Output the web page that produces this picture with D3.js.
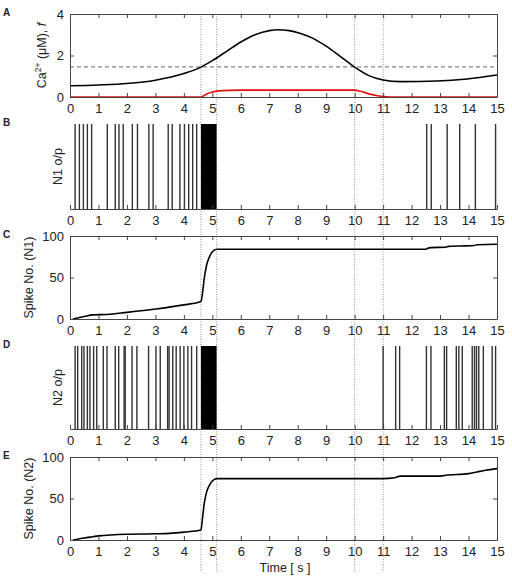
<!DOCTYPE html>
<html>
<head>
<meta charset="utf-8">
<script src="https://cdn.jsdelivr.net/npm/d3@7"></script>
<style>
  body { margin: 0; background: #fff; }
  text { font-family: "Liberation Sans", Arial, sans-serif; fill: #222; }
</style>
</head>
<body>
<svg id="chart" width="512" height="577"></svg>
<script>
// time ticks shared by every panel
const timeTicks = [0, 1, 2, 3, 4, 5, 6, 7, 8, 9, 10, 11, 12, 13, 14, 15];
const markerTimes = [4.6, 5.15, 10, 11];

// A: calcium and f
const caT   = [0, 1, 2, 3, 4, 4.6, 5.0, 5.5, 6.0, 6.5, 7.0, 7.3, 7.7, 8.1, 8.5, 9.0, 9.5, 10.0, 10.5, 11.0, 11.6, 12.9, 13.95, 15];
const caVal = [0.54, 0.58, 0.65, 0.81, 1.13, 1.44, 1.75, 2.2, 2.65, 3.0, 3.2, 3.24, 3.2, 3.06, 2.85, 2.45, 1.95, 1.44, 1.03, 0.82, 0.74, 0.77, 0.87, 1.06];
const fT    = [0, 4.6, 4.8, 5.0, 5.3, 5.6, 6.0, 10.0, 10.2, 10.5, 10.8, 11.1, 11.4, 15];
const fVal  = [0, 0, 0.14, 0.24, 0.3, 0.32, 0.33, 0.33, 0.28, 0.15, 0.06, 0.015, 0, 0];
const caThreshold = 1.45;

// B: N1 output spikes
const n1Spikes = [0.18, 0.33, 0.47, 0.61, 0.76, 1.31, 1.59, 1.72, 1.87, 2.19, 2.37, 2.77, 2.92, 3.45, 3.59,
                  3.86, 4.02, 4.17, 4.31, 4.45, 12.53, 12.69, 13.25, 13.69, 14.24, 14.95];
const n1Burst = [4.6, 5.15];

// C: N1 spike count
const n1CountT = [0.1, 0.5, 0.8, 1.3, 2, 3, 4, 4.6, 4.65, 4.72, 4.8, 4.9, 5.0, 5.15, 12.5, 12.55, 12.7, 13.2, 13.3, 13.7, 14.2, 14.3, 14.95, 15];
const n1Count  = [0, 3, 5, 5.5, 8, 12, 17, 21, 30, 50, 65, 75, 81, 84, 84, 85, 86, 86.5, 87.5, 88, 88.5, 89.5, 90, 90];

// D: N2 output spikes
const n2Spikes = [0.18, 0.27, 0.41, 0.49, 0.61, 0.70, 0.83, 0.94, 1.17, 1.30, 1.59, 1.71, 1.90, 1.94, 2.18, 2.35,
                  2.76, 3.02, 3.17, 3.43, 3.48, 3.61, 3.73, 3.87, 4.00, 4.14, 4.27, 4.45,
                  11.0, 11.44, 11.58, 12.52, 12.68, 13.15, 13.23, 13.57, 13.66, 13.78, 14.13, 14.21, 14.28,
                  14.36, 14.52, 14.83, 14.95];
const n2Burst = [4.6, 5.15];

// E: N2 spike count
const n2CountT = [0.1, 0.5, 0.8, 1, 2, 3, 3.5, 4, 4.6, 4.65, 4.72, 4.8, 4.9, 5.0, 5.15, 11.0, 11.4, 11.6, 13.0, 13.2, 14.0, 14.3, 14.6, 15];
const n2Count  = [0, 2.5, 4, 5, 7, 7.5, 8, 9.5, 12, 25, 45, 58, 66, 71, 74, 74, 75, 77, 77, 78, 80, 82, 84, 86];

const svg = d3.select('#chart');
const x = d3.scaleLinear().domain([0, 15]).range([70, 497]);
const axisColor = '#444';
const tickFont = 13;

const panels = {
  A: {top: 14, bottom: 97},
  B: {top: 124, bottom: 209},
  C: {top: 236, bottom: 319},
  D: {top: 346, bottom: 429},
  E: {top: 457, bottom: 540}
};

// vertical dotted markers across all panels
svg.append('g').selectAll('line').data(markerTimes)
  .enter().append('line')
    .attr('x1', d => x(d)).attr('x2', d => x(d))
    .attr('y1', panels.A.top).attr('y2', 572)
    .attr('stroke', '#777').attr('stroke-width', 0.8)
    .attr('stroke-dasharray', '1,1.5');

const styleAxis = (g) => {
  g.selectAll('path.domain').attr('stroke', axisColor);
  g.selectAll('.tick line').attr('stroke', axisColor);
  g.selectAll('.tick text').attr('font-size', tickFont).attr('fill', '#222')
    .attr('font-family', '"Liberation Sans", Arial, sans-serif');
};

const bottomAxis = (p) => {
  svg.append('g').attr('transform', `translate(0,${p.bottom})`)
    .call(d3.axisBottom(x).tickValues(timeTicks).tickSizeInner(-4).tickSizeOuter(0).tickPadding(7).tickFormat(d3.format('d')))
    .call(styleAxis);
};

const boxAxes = (p, y, yTicks) => {
  bottomAxis(p);
  svg.append('g').attr('transform', `translate(0,${p.top})`)
    .call(d3.axisTop(x).tickValues(timeTicks).tickSizeInner(-4).tickSizeOuter(0).tickFormat(''))
    .call(styleAxis);
  svg.append('g').attr('transform', `translate(${x(0)},0)`)
    .call(d3.axisLeft(y).tickValues(yTicks).tickSizeInner(-4).tickSizeOuter(0).tickPadding(6).tickFormat(d3.format('d')))
    .call(styleAxis);
  svg.append('g').attr('transform', `translate(${x(15)},0)`)
    .call(d3.axisRight(y).tickValues(yTicks).tickSizeInner(-4).tickSizeOuter(0).tickFormat(''))
    .call(styleAxis);
};

const panelLetter = (name, p) => {
  svg.append('text').attr('x', 3).attr('y', p.top + 2)
    .attr('font-size', 10).attr('font-weight', 'bold').text(name);
};

const yLabel = (p, xPos, txt) => {
  return svg.append('text')
    .attr('transform', `translate(${xPos},${(p.top + p.bottom) / 2}) rotate(-90)`)
    .attr('text-anchor', 'middle').attr('font-size', 12.5).text(txt);
};

// ---- A
const yA = d3.scaleLinear().domain([0, 4]).range([panels.A.bottom, panels.A.top]);
svg.append('line')
  .attr('x1', x(0)).attr('x2', x(15))
  .attr('y1', yA(caThreshold)).attr('y2', yA(caThreshold))
  .attr('stroke', '#555').attr('stroke-width', 0.9).attr('stroke-dasharray', '4,3');
const lineA = d3.line().curve(d3.curveMonotoneX);
svg.append('path').datum(fT.map((t, i) => [x(t), yA(fVal[i])]))
  .attr('d', lineA).attr('fill', 'none').attr('stroke', '#e01010').attr('stroke-width', 1.6);
svg.append('path').datum(caT.map((t, i) => [x(t), yA(caVal[i])]))
  .attr('d', lineA).attr('fill', 'none').attr('stroke', '#000').attr('stroke-width', 1.6);
boxAxes(panels.A, yA, [0, 2, 4]);
panelLetter('A', panels.A);
const caLab = svg.append('text')
  .attr('transform', `translate(46,${(panels.A.top + panels.A.bottom) / 2}) rotate(-90)`)
  .attr('text-anchor', 'middle').attr('font-size', 12.5);
caLab.append('tspan').text('Ca');
caLab.append('tspan').attr('baseline-shift', 'super').attr('font-size', 8.5).text('2+');
caLab.append('tspan').text(' (\u03bcM), ');
caLab.append('tspan').attr('font-style', 'italic').text('f');

// ---- spike rasters
const raster = (p, spikes, burst) => {
  const y = d3.scaleLinear().domain([0, 1]).range([p.bottom, p.top]);
  svg.append('g').selectAll('line').data(spikes)
    .enter().append('line')
      .attr('x1', d => x(d)).attr('x2', d => x(d))
      .attr('y1', y(0)).attr('y2', y(1))
      .attr('stroke', '#333').attr('stroke-width', 1.4);
  svg.append('rect')
    .attr('x', x(burst[0])).attr('width', x(burst[1]) - x(burst[0]))
    .attr('y', y(1)).attr('height', y(0) - y(1)).attr('fill', '#000');
  bottomAxis(p);
};

raster(panels.B, n1Spikes, n1Burst);
panelLetter('B', panels.B);
yLabel(panels.B, 62, 'N1 o/p');

// ---- C
const yC = d3.scaleLinear().domain([0, 100]).range([panels.C.bottom, panels.C.top]);
svg.append('path').datum(n1CountT.map((t, i) => [x(t), yC(n1Count[i])]))
  .attr('d', d3.line().curve(d3.curveMonotoneX)).attr('fill', 'none').attr('stroke', '#000').attr('stroke-width', 1.6);
boxAxes(panels.C, yC, [0, 50, 100]);
panelLetter('C', panels.C);
yLabel(panels.C, 33, 'Spike No. (N1)');

// ---- D
raster(panels.D, n2Spikes, n2Burst);
panelLetter('D', panels.D);
yLabel(panels.D, 62, 'N2 o/p');

// ---- E
const yE = d3.scaleLinear().domain([0, 100]).range([panels.E.bottom, panels.E.top]);
svg.append('path').datum(n2CountT.map((t, i) => [x(t), yE(n2Count[i])]))
  .attr('d', d3.line().curve(d3.curveMonotoneX)).attr('fill', 'none').attr('stroke', '#000').attr('stroke-width', 1.6);
boxAxes(panels.E, yE, [0, 50, 100]);
panelLetter('E', panels.E);
yLabel(panels.E, 33, 'Spike No. (N2)');

svg.append('text').attr('x', 285).attr('y', 572).attr('text-anchor', 'middle')
  .attr('font-size', 12.5).text('Time [ s ]');
</script>
</body>
</html>
